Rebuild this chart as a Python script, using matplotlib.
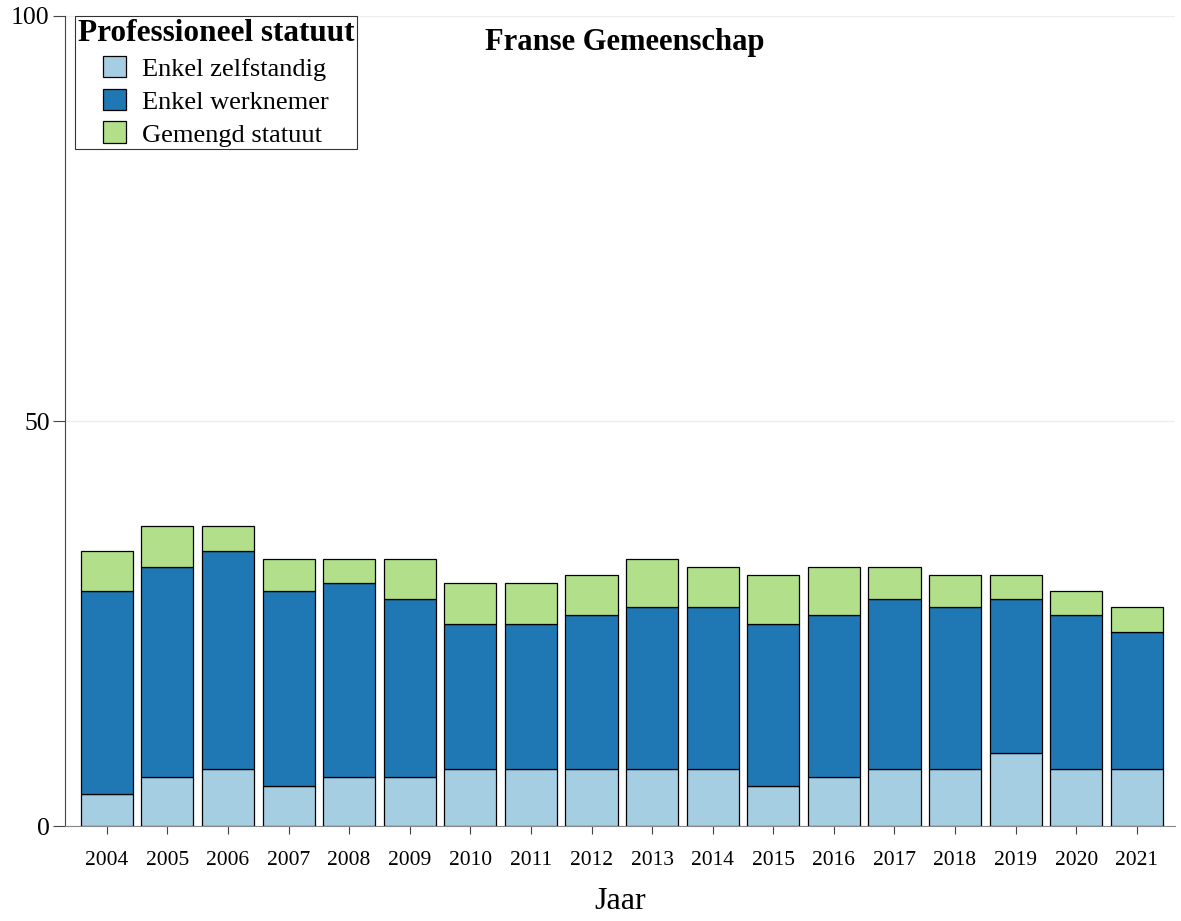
import numpy as np
import matplotlib
matplotlib.use("Agg")
import matplotlib.pyplot as plt

years = [str(y) for y in range(2004, 2022)]
zelfstandig = [4, 6, 7, 5, 6, 6, 7, 7, 7, 7, 7, 5, 6, 7, 7, 9, 7, 7]
werknemer = [25, 26, 27, 24, 24, 22, 18, 18, 19, 20, 20, 20, 20, 21, 20, 19, 19, 17]
gemengd = [5, 5, 3, 4, 3, 5, 5, 5, 5, 6, 5, 6, 6, 4, 4, 3, 3, 3]
series_labels = ["Enkel zelfstandig", "Enkel werknemer", "Gemengd statuut"]
colors = ["#a6cee3", "#1f78b4", "#b2df8a"]

plt.rcParams["font.family"] = ["Liberation Serif", "DejaVu Serif"]

fig = plt.figure(figsize=(11.81, 9.21), dpi=100)
ax = fig.add_axes([65 / 1181, 95 / 921, 1110 / 1181, 810 / 921])

x = np.arange(len(years))
bottom = np.zeros(len(years))
for vals, lab, col in zip([zelfstandig, werknemer, gemengd], series_labels, colors):
    ax.bar(x, vals, bottom=bottom, width=0.86, color=col, edgecolor="black",
           linewidth=0.9, label=lab, zorder=3)
    bottom += np.array(vals)

ax.set_ylim(0, 100)
ax.set_xlim(-0.69, len(years) - 1 + 0.63)
ax.set_yticks([0, 50, 100])
ax.set_xticks(x)
ax.set_xticklabels(years, fontsize=15.5)
ax.tick_params(axis="y", labelsize=18.5, length=9, color="#444444", pad=2)
ax.tick_params(axis="x", length=6, color="#444444", pad=12)
ax.grid(axis="y", color="#eeeeee", linewidth=1, zorder=0)

for s in ["top", "right"]:
    ax.spines[s].set_visible(False)
ax.spines["left"].set_color("#444444")
ax.spines["bottom"].set_color("#888888")

ax.set_xlabel("Jaar", fontsize=23, labelpad=12)
ax.text(0.504, 0.985, "Franse Gemeenschap", transform=ax.transAxes,
        ha="center", va="top", fontsize=22, fontweight="bold")

leg = ax.legend(title="Professioneel statuut", loc="upper left",
                bbox_to_anchor=(0.009, 1.0), fontsize=19, frameon=True,
                fancybox=False, edgecolor="black", borderpad=0.1,
                handlelength=0.9, handleheight=0.9, labelspacing=0.3,
                handletextpad=0.6, borderaxespad=0)
leg.get_title().set_fontweight("bold")
leg.get_title().set_fontsize(22.5)
leg.get_frame().set_linewidth(0.8)

fig.savefig("out.png", dpi=100)
